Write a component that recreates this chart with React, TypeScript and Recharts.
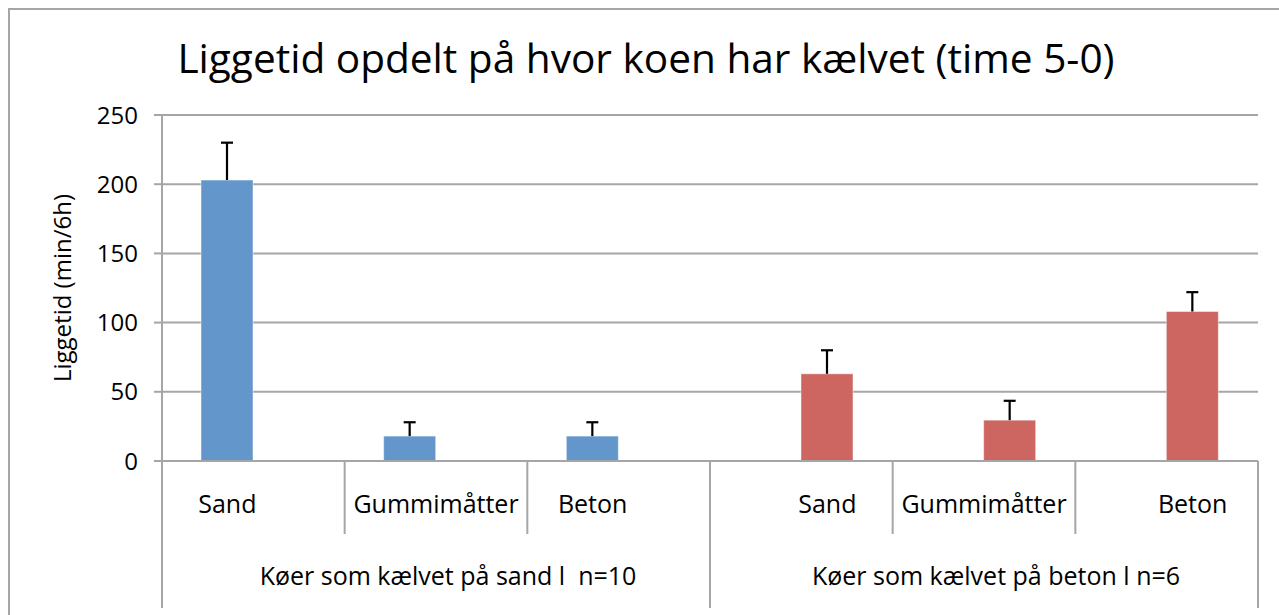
import { BarChart, Bar, XAxis, YAxis, CartesianGrid } from 'recharts'

// Liggetid (min/6h) opdelt på underlag, for køer der kælvede på sand hhv. beton
const kategorier = ['Sand', 'Gummimåtter', 'Beton', 'Sand', 'Gummimåtter', 'Beton']
const grupper = [
  'Køer som kælvet på sand l  n=10',
  'Køer som kælvet på sand l  n=10',
  'Køer som kælvet på sand l  n=10',
  'Køer som kælvet på beton l n=6',
  'Køer som kælvet på beton l n=6',
  'Køer som kælvet på beton l n=6',
]
const sandKoer = [203, 18, 18, null, null, null]
const sandKoerFejl = [27, 10, 10, null, null, null]
const betonKoer = [null, null, null, 63, 29.5, 108]
const betonKoerFejl = [null, null, null, 17, 14, 14]
const yTicks = [0, 50, 100, 150, 200, 250]

const titel = 'Liggetid opdelt på hvor koen har kælvet (time 5-0)'
const yLabel = 'Liggetid (min/6h)'

const FONT = "'Open Sans', 'Noto Sans', sans-serif"
const GRID = '#A6A6A6'
const BLUE = '#6396CB'
const RED = '#CD6661'

const W = 1279
const H = 615
const M = { top: 115, right: 21, left: 0, bottom: 0 }
const Y_AXIS_W = 162
const X_AXIS_H = 154
const BAND = (W - M.right - M.left - Y_AXIS_W) / kategorier.length
const BAR = 52
const LABEL_FS = 25

const data = kategorier.map((k, i) => ({
  id: String(i),
  kategori: k,
  gruppe: grupper[i],
  sand: sandKoer[i],
  sandFejl: sandKoerFejl[i],
  beton: betonKoer[i],
  betonFejl: betonKoerFejl[i],
}))

// bar + one-sided (upwards) error whisker, like the Excel original
const fejlShape = (key: string, fejlKey: string, fill: string) => (props: any) => {
  const { x, y, width, height, payload } = props
  const v = payload?.[key]
  const err = payload?.[fejlKey]
  if (v == null || !height) return <g />
  const perUnit = height / v
  const top = y - (err ?? 0) * perUnit
  const cx = x + width / 2
  return (
    <g>
      <rect x={x} y={y} width={width} height={height} fill={fill} stroke="rgba(255,255,255,0.45)" strokeWidth={1} />
      {err != null && (
        <g stroke="#000" strokeWidth={2.2}>
          <line x1={cx} y1={y} x2={cx} y2={top} />
          <line x1={cx - 6} y1={top} x2={cx + 6} y2={top} />
        </g>
      )}
    </g>
  )
}

function KategoriTick(props: any) {
  const { x, y, payload } = props
  const i: number = payload.index
  const label = kategorier[i]
  const ny = i === 0 || grupper[i] !== grupper[i - 1]
  const sidst = i === kategorier.length - 1

  // labels sit toward their bar when there is room
  const side = sandKoer[i] != null ? -1 : 1
  const tekstW = label.length * 0.55 * LABEL_FS
  const plads = (BAND - tekstW) / 2
  const dx = plads >= BAR / 2 ? side * (BAR / 2) : 0

  const medlemmer = grupper.map((g, j) => (g === grupper[i] ? j : -1)).filter((j) => j >= 0)
  const midt = medlemmer[Math.floor(medlemmer.length / 2)] === i

  const left = x - BAND / 2
  const right = x + BAND / 2
  return (
    <g>
      <line x1={left} y1={y} x2={left} y2={y + (ny ? 147 : 73)} stroke={GRID} strokeWidth={2} />
      {sidst && <line x1={right} y1={y} x2={right} y2={y + 147} stroke={GRID} strokeWidth={2} />}
      <text x={x + dx} y={y + 52} textAnchor="middle" fontSize={LABEL_FS} fontFamily={FONT} fill="#000">
        {label}
      </text>
      {midt && (
        <text x={x + 12} y={y + 124} textAnchor="middle" fontSize={LABEL_FS} fontFamily={FONT} fill="#000"
          style={{ whiteSpace: 'pre' }}>
          {grupper[i]}
        </text>
      )}
    </g>
  )
}

export default function App() {
  return (
    <div style={{ position: 'absolute', left: 0, top: 0, width: W, height: H, overflow: 'hidden', background: '#fff' }}>
      <div style={{ position: 'absolute', left: 8, top: 8, width: W + 40, height: H + 40, border: `2px solid ${GRID}` }} />
      <svg width={W} height={100} style={{ position: 'absolute', left: 0, top: 0 }}>
        <text x={646} y={73} textAnchor="middle" fontSize={40.6} fontFamily={FONT} fill="#000">
          {titel}
        </text>
      </svg>
      <div style={{ position: 'absolute', left: 0, top: 0 }}>
        <BarChart width={W} height={H} data={data} margin={M} barGap={0} barSize={BAR}>
          <CartesianGrid vertical={false} stroke={GRID} strokeWidth={2} />
          <XAxis
            dataKey="id"
            height={X_AXIS_H}
            interval={0}
            tickLine={false}
            tickSize={0}
            tickMargin={0}
            axisLine={{ stroke: GRID, strokeWidth: 2 }}
            tick={<KategoriTick />}
          />
          <YAxis
            width={Y_AXIS_W}
            domain={[0, 250]}
            ticks={yTicks}
            interval={0}
            tickSize={8}
            tickMargin={16}
            axisLine={{ stroke: GRID, strokeWidth: 2 }}
            tickLine={{ stroke: GRID, strokeWidth: 2 }}
            tick={{ fill: '#000', fontSize: 24, fontFamily: FONT }}
            label={{
              content: () => (
                <text x={61} y={288} transform="rotate(-90 61 288)" textAnchor="middle"
                  dominantBaseline="central" fontSize={24} fontFamily={FONT} fill="#000">
                  {yLabel}
                </text>
              ),
            }}
          />
          <Bar dataKey="sand" fill={BLUE} isAnimationActive={false} shape={fejlShape('sand', 'sandFejl', BLUE)} />
          <Bar dataKey="beton" fill={RED} isAnimationActive={false} shape={fejlShape('beton', 'betonFejl', RED)} />
        </BarChart>
      </div>
    </div>
  )
}
